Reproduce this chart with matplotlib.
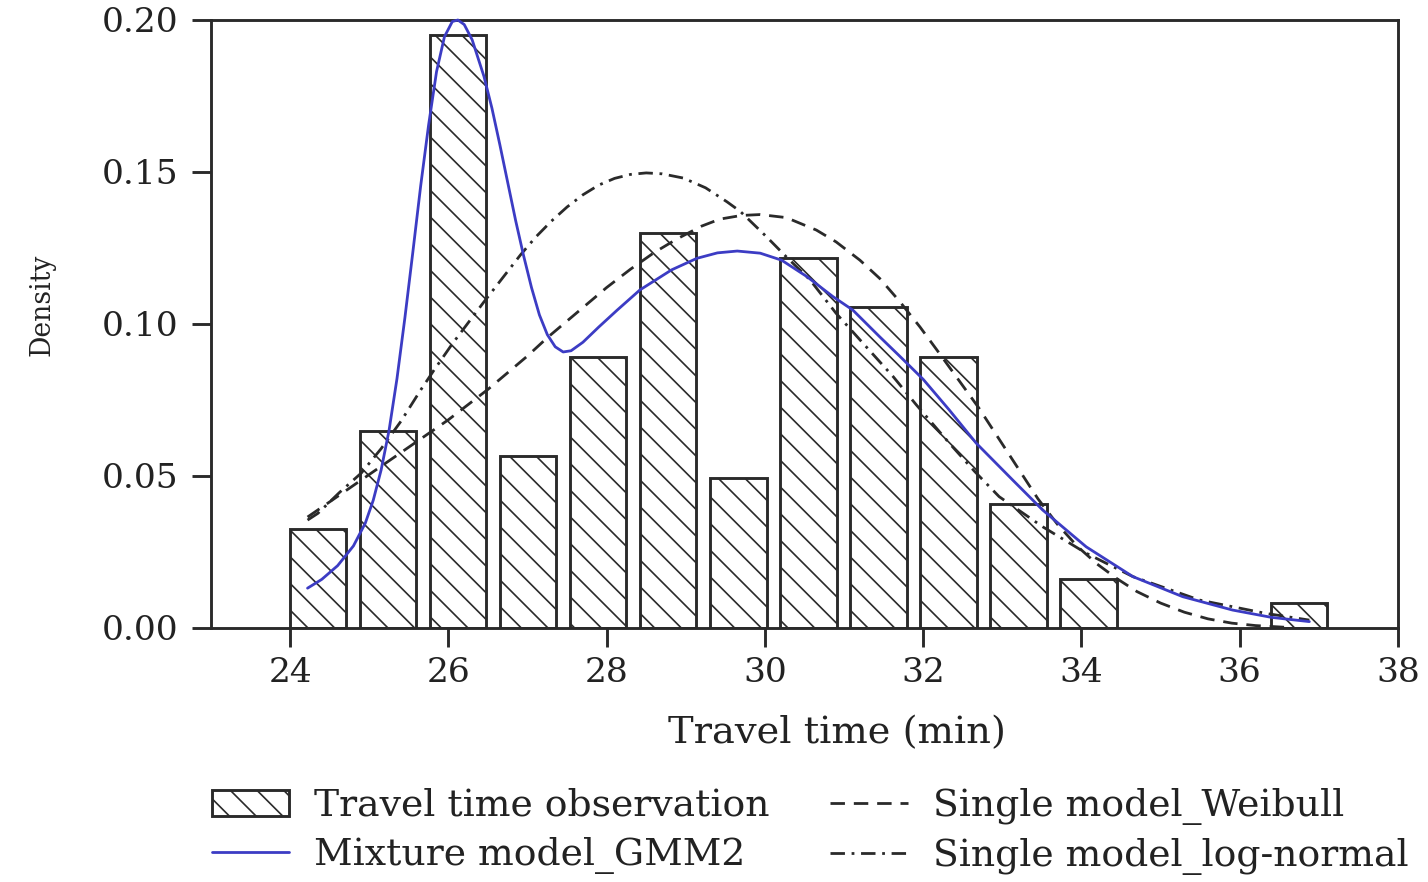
import matplotlib
matplotlib.use("Agg")
import matplotlib.pyplot as plt

# ---------------- data ----------------
bin_centers = [24.355, 25.24, 26.125, 27.01, 27.895, 28.78, 29.665, 30.55,
               31.435, 32.32, 33.205, 34.09, 36.745]
bin_density = [0.0325, 0.0648, 0.195, 0.0567, 0.089, 0.1298, 0.0493, 0.1218,
               0.1057, 0.089, 0.0407, 0.0162, 0.0081]

gmm_x = [24.22, 24.40, 24.60, 24.80, 24.95, 25.05, 25.15, 25.25, 25.35, 25.45,
         25.55, 25.65, 25.75, 25.85, 25.95, 26.05, 26.12, 26.20, 26.30, 26.45,
         26.55, 26.65, 26.75, 26.85, 26.95, 27.05, 27.15, 27.25, 27.35, 27.45,
         27.55, 27.70, 27.90, 28.13, 28.42, 28.82, 29.14, 29.40, 29.65, 29.94,
         30.21, 30.53, 30.86, 31.11, 31.45, 31.70, 32.00, 32.33, 32.67, 33.13,
         33.51, 34.06, 34.65, 35.28, 35.91, 36.40, 36.88]
gmm_y = [0.0131, 0.0160, 0.0205, 0.0270, 0.0345, 0.0420, 0.0520, 0.0650, 0.0820, 0.1020,
         0.1235, 0.1455, 0.1655, 0.1830, 0.1945, 0.1995, 0.2000, 0.1985, 0.1935, 0.1814,
         0.1710, 0.1590, 0.1465, 0.1340, 0.1225, 0.1120, 0.1030, 0.0965, 0.0925, 0.0908,
         0.0912, 0.0940, 0.0990, 0.1045, 0.1112, 0.1178, 0.1216, 0.1234, 0.1240, 0.1233,
         0.1210, 0.1156, 0.1090, 0.1046, 0.0958, 0.0895, 0.0818, 0.0717, 0.0608, 0.0487,
         0.0388, 0.0267, 0.0169, 0.0103, 0.0059, 0.0035, 0.0021]

weibull_x = [24.22, 24.50, 24.75, 25.00, 25.25, 25.50, 25.75, 26.00, 26.25, 26.50,
             26.75, 27.00, 27.25, 27.50, 27.75, 28.00, 28.30, 28.60, 28.89, 29.20,
             29.43, 29.70, 29.94, 30.27, 30.65, 30.90, 31.20, 31.45, 31.70, 31.96,
             32.20, 32.45, 32.70, 32.95, 33.20, 33.45, 33.70, 33.95, 34.20, 34.45,
             34.70, 35.00, 35.30, 35.60, 35.90, 36.20, 36.60]
weibull_y = [0.0365, 0.0415, 0.0460, 0.0505, 0.0550, 0.0595, 0.0640, 0.0685, 0.0735, 0.0785,
             0.0840, 0.0895, 0.0955, 0.1010, 0.1065, 0.1120, 0.1180, 0.1235, 0.1280, 0.1322,
             0.1345, 0.1357, 0.1360, 0.1350, 0.1309, 0.1270, 0.1210, 0.1150, 0.1075, 0.0990,
             0.0905, 0.0815, 0.0725, 0.0625, 0.0525, 0.0425, 0.0340, 0.0268, 0.0210, 0.0162,
             0.0120, 0.0082, 0.0052, 0.0030, 0.0016, 0.0008, 0.0002]

lognorm_x = [24.22, 24.35, 24.62, 24.90, 25.15, 25.40, 25.65, 25.82, 26.05, 26.45,
             26.91, 27.10, 27.30, 27.50, 27.70, 27.90, 28.10, 28.30, 28.50, 28.70,
             28.97, 29.25, 29.52, 29.69, 30.02, 30.27, 30.57, 30.90, 31.28, 31.62,
             31.91, 32.33, 32.65, 32.96, 33.51, 34.06, 34.65, 35.49, 36.33, 36.88]
lognorm_y = [0.0355, 0.0377, 0.0445, 0.0510, 0.0590, 0.0680, 0.0783, 0.0849, 0.0935, 0.1073,
             0.1227, 0.1285, 0.1338, 0.1385, 0.1425, 0.1457, 0.1479, 0.1492, 0.1497, 0.1494,
             0.1480, 0.1448, 0.1402, 0.1370, 0.1287, 0.1221, 0.1145, 0.1035, 0.0925, 0.0827,
             0.0735, 0.0608, 0.0515, 0.0432, 0.0333, 0.0246, 0.0169, 0.0092, 0.0048, 0.0026]

x_ticks = [24, 26, 28, 30, 32, 34, 36, 38]
y_ticks = [0.00, 0.05, 0.10, 0.15, 0.20]
y_tick_labels = ["0.00", "0.05", "0.10", "0.15", "0.20"]

labels = ["Travel time observation", "Mixture model_GMM2",
          "Single model_Weibull", "Single model_log-normal"]

# ---------------- style ----------------
DPI = 80
plt.rcParams['font.family'] = ['DejaVu Serif']
plt.rcParams['hatch.linewidth'] = 1.5
plt.rcParams['hatch.color'] = '#2a2a2a'
plt.rcParams['lines.scale_dashes'] = False

INK = '#2a2a2a'
BLUE = '#3c3cc4'
TXT = '#222222'

fig = plt.figure(figsize=(1428 / DPI, 882 / DPI), dpi=DPI)
ax = fig.add_axes([211 / 1428, 1 - 628 / 882, (1398 - 211) / 1428, (628 - 20) / 882])

bars = ax.bar(bin_centers, bin_density, width=0.71, facecolor='white',
              edgecolor=INK, linewidth=2.6, hatch='\\', zorder=2)

gmm_line, = ax.plot(gmm_x, gmm_y, color=BLUE, linewidth=2.5, zorder=4,
                    solid_capstyle='round', solid_joinstyle='round', clip_on=False)
wb_line, = ax.plot(weibull_x, weibull_y, color=INK, linewidth=2.5, zorder=3,
                   dashes=(13, 8))
ln_line, = ax.plot(lognorm_x, lognorm_y, color=INK, linewidth=2.5, zorder=3,
                   dashes=(13, 6, 2.5, 6))

ax.set_xlim(23, 38)
ax.set_ylim(0, 0.20)
ax.set_xticks(x_ticks)
ax.set_yticks(y_ticks)
ax.set_yticklabels(y_tick_labels)

for s in ax.spines.values():
    s.set_linewidth(2.6)
    s.set_color(INK)
ax.tick_params(axis='both', direction='out', length=17, width=2.6, color=INK,
               labelsize=31, labelcolor=TXT)
ax.tick_params(axis='y', pad=12)
ax.tick_params(axis='x', pad=9)

ax.set_xlabel("Travel time (min)", fontsize=34.5, color=TXT)
ax.xaxis.set_label_coords(0.527, -0.143)
ax.set_ylabel("Density", fontsize=24, color=TXT)
ax.yaxis.set_label_coords(-0.131, 0.531)

handles = [bars, gmm_line, wb_line, ln_line]
leg = fig.legend(handles, labels, ncol=2, frameon=False,
                 loc='upper left', bbox_to_anchor=(212 / 1428, 1 - 788 / 882),
                 fontsize=34, handlelength=2.05, handletextpad=0.66,
                 columnspacing=1.6, labelspacing=0.35, borderpad=0,
                 borderaxespad=0)
for t in leg.get_texts():
    t.set_color(TXT)

fig.savefig("out.png", dpi=DPI)
